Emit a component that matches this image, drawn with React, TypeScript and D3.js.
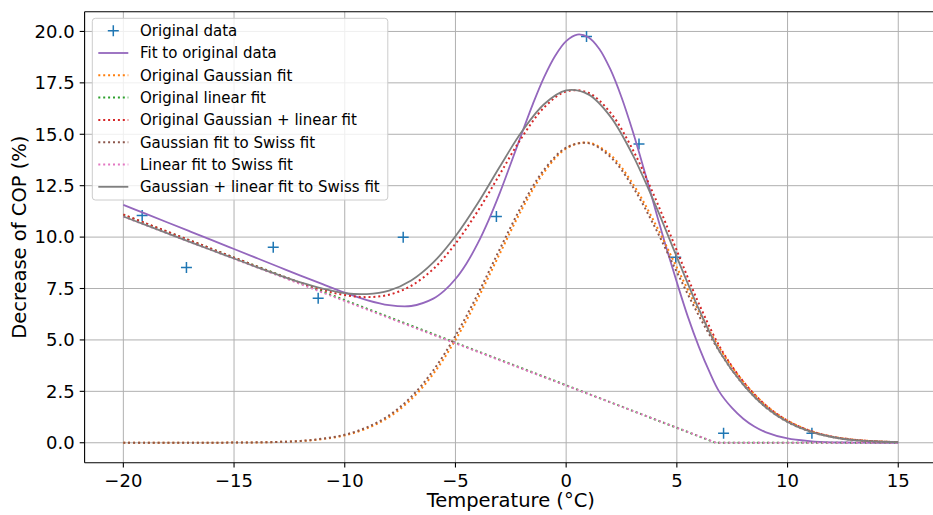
import React from "react";
import * as d3 from "d3";

// Temperature grid (°C) for the fitted curves
const temps = [-20, -19, -18, -17, -16, -15, -14, -13, -12, -11, -10, -9, -8, -7, -6, -5, -4, -3, -2, -1, 0, 1, 2, 3, 4, 5, 6, 7, 8, 9, 10, 11, 12, 13, 14, 15];

// Fit to original data (purple), read on a finer grid around the peak
const fitOriginalT = [-20, -19, -18, -17, -16, -15, -14, -13, -12, -11, -10, -9, -8, -7, -6, -5.5, -5, -4.5, -4, -3.5, -3, -2.5, -2, -1.5, -1, -0.5, 0, 0.5, 1, 1.5, 2, 2.5, 3, 3.5, 4, 4.5, 5, 5.5, 6, 6.5, 6.9, 7.5, 8, 8.5, 9, 10, 11, 12, 13, 14, 15];
const fitOriginal = [11.57, 11.14, 10.71, 10.28, 9.85, 9.42, 8.99, 8.56, 8.13, 7.71, 7.3, 6.94, 6.69, 6.65, 7.01, 7.4, 7.96, 8.72, 9.68, 10.83, 12.14, 13.58, 15.05, 16.48, 17.77, 18.81, 19.53, 19.85, 19.72, 19.15, 18.15, 16.8, 15.17, 13.35, 11.45, 9.57, 7.8, 6.12, 4.65, 3.38, 2.51, 1.68, 1.17, 0.79, 0.52, 0.21, 0.08, 0.02, 0.01, 0.0, 0.0];
// Original Gaussian fit (orange)
const origGauss = [0, 0, 0, 0, 0, 0.01, 0.01, 0.04, 0.08, 0.18, 0.36, 0.7, 1.25, 2.11, 3.35, 5.0, 6.99, 9.19, 11.35, 13.15, 14.31, 14.59, 14.0, 12.61, 10.7, 8.52, 6.38, 4.48, 2.97, 1.84, 1.08, 0.59, 0.3, 0.15, 0.07, 0.03];
// Original Gaussian + linear fit (red)
const origSum = [11.1, 10.68, 10.26, 9.84, 9.42, 9.0, 8.58, 8.17, 7.78, 7.44, 7.18, 7.08, 7.2, 7.63, 8.45, 9.68, 11.25, 13.05, 14.85, 16.3, 17.08, 17.02, 16.05, 14.27, 11.95, 9.34, 6.75, 4.55, 2.98, 1.84, 1.07, 0.59, 0.3, 0.15, 0.07, 0.03];
// Gaussian fit to Swiss fit (brown)
const swissGauss = [0, 0, 0, 0, 0, 0.01, 0.02, 0.04, 0.09, 0.2, 0.39, 0.75, 1.33, 2.23, 3.52, 5.2, 7.21, 9.41, 11.53, 13.27, 14.35, 14.57, 13.9, 12.46, 10.5, 8.3, 6.17, 4.31, 2.83, 1.74, 1.01, 0.55, 0.28, 0.13, 0.06, 0.03];
// Gaussian + linear fit to Swiss fit (gray)
const swissSum = [11.0, 10.59, 10.18, 9.77, 9.36, 8.96, 8.55, 8.16, 7.8, 7.5, 7.28, 7.23, 7.4, 7.89, 8.77, 10.04, 11.63, 13.42, 15.13, 16.46, 17.13, 16.94, 15.86, 14.01, 11.64, 9.03, 6.48, 4.31, 2.83, 1.74, 1.01, 0.55, 0.28, 0.13, 0.06, 0.03];

// Linear fits (piecewise linear, clipped at zero)
const origLinearT = [-20, 6.75, 15];
const origLinear = [11.08, 0, 0];
const swissLinearT = [-20, 6.78, 15];
const swissLinear = [11.0, 0, 0];

// Original measured data
const dataT = [-19.15, -17.15, -13.23, -11.2, -7.36, -3.15, 0.92, 3.29, 4.95, 7.11, 11.1];
const dataY = [11.05, 8.52, 9.51, 7.03, 9.99, 11.0, 19.76, 14.53, 9.02, 0.46, 0.46];

const xTicks = [-20, -15, -10, -5, 0, 5, 10, 15];
const yTicks = [0, 2.5, 5, 7.5, 10, 12.5, 15, 17.5, 20];

const legendLabels = [
  "Original data",
  "Fit to original data",
  "Original Gaussian fit",
  "Original linear fit",
  "Original Gaussian + linear fit",
  "Gaussian fit to Swiss fit",
  "Linear fit to Swiss fit",
  "Gaussian + linear fit to Swiss fit",
];

const W = 933;
const H = 515;
const L = 84.6;
const R = 937;
const T = 11.7;
const B = 462.7;
const FONT = "'DejaVu Sans', sans-serif";
const DOT = "2 2.9";

export default function App() {
  const x = d3.scaleLinear().domain([-21.75, 16.75]).range([L, R]);
  const y = d3.scaleLinear().domain([-0.97, 20.96]).range([B, T]);

  const curveOn = (ts: number[], vals: number[]) =>
    d3
      .line<number>()
      .x((_, i) => x(ts[i]))
      .y((d) => y(d))
      .curve(d3.curveCatmullRom.alpha(0.5))(vals) as string;
  const curve = (vals: number[]) => curveOn(temps, vals);
  const poly = (ts: number[], vals: number[]) =>
    d3
      .line<number>()
      .x((_, i) => x(ts[i]))
      .y((d) => y(d))(vals) as string;

  const series = [
    { label: legendLabels[1], color: "#9467bd", d: curveOn(fitOriginalT, fitOriginal), dash: null },
    { label: legendLabels[2], color: "#ff7f0e", d: curve(origGauss), dash: DOT },
    { label: legendLabels[3], color: "#2ca02c", d: poly(origLinearT, origLinear), dash: DOT },
    { label: legendLabels[4], color: "#d62728", d: curve(origSum), dash: DOT },
    { label: legendLabels[5], color: "#8c564b", d: curve(swissGauss), dash: DOT },
    { label: legendLabels[6], color: "#e377c2", d: poly(swissLinearT, swissLinear), dash: DOT },
    { label: legendLabels[7], color: "#7f7f7f", d: curve(swissSum), dash: null },
  ];

  const plus = (cx: number, cy: number, k: string) => (
    <path
      key={k}
      d={`M${cx - 5.5},${cy}H${cx + 5.5}M${cx},${cy - 5.5}V${cy + 5.5}`}
      stroke="#1f77b4"
      strokeWidth={1.5}
      fill="none"
    />
  );

  const legX = 92.3;
  const legY = 18.3;
  const rowY = (i: number) => 30.7 + i * 22.3;

  return (
    <svg
      width={W}
      height={H}
      style={{ position: "fixed", left: 0, top: 0, background: "#fff" }}
      fontFamily={FONT}
    >
      <defs>
        <clipPath id="plotclip">
          <rect x={L} y={T} width={R - L} height={B - T} />
        </clipPath>
      </defs>
      <rect x={0} y={0} width={W} height={H} fill="#fff" />
      {/* grid */}
      <g stroke="#b0b0b0" strokeWidth={1}>
        {xTicks.map((t) => (
          <line key={"gx" + t} x1={x(t)} x2={x(t)} y1={T} y2={B} />
        ))}
        {yTicks.map((t) => (
          <line key={"gy" + t} x1={L} x2={R} y1={y(t)} y2={y(t)} />
        ))}
      </g>
      <g clipPath="url(#plotclip)">
        {dataT.map((t, i) => plus(x(t), y(dataY[i]), "p" + i))}
        {series.map((s, i) => (
          <path
            key={"s" + i}
            d={s.d}
            fill="none"
            stroke={s.color}
            strokeWidth={s.dash ? 2 : 1.8}
            strokeDasharray={s.dash ?? undefined}
          />
        ))}
      </g>
      {/* spines */}
      <g stroke="#000" strokeWidth={1.1} fill="none">
        <line x1={L} x2={L} y1={T} y2={B} />
        <line x1={L} x2={R} y1={B} y2={B} />
        <line x1={L} x2={R} y1={T} y2={T} />
      </g>
      {/* ticks */}
      <g stroke="#000" strokeWidth={1.1}>
        {xTicks.map((t) => (
          <line key={"tx" + t} x1={x(t)} x2={x(t)} y1={B} y2={B + 4.9} />
        ))}
        {yTicks.map((t) => (
          <line key={"ty" + t} x1={L - 4.9} x2={L} y1={y(t)} y2={y(t)} />
        ))}
      </g>
      <g fontSize={18} fill="#000">
        {xTicks.map((t) => (
          <text key={"lx" + t} x={x(t)} y={B + 24} textAnchor="middle">
            {t < 0 ? "\u2212" + Math.abs(t) : String(t)}
          </text>
        ))}
        {yTicks.map((t) => (
          <text key={"ly" + t} x={L - 10} y={y(t)} dy="0.35em" textAnchor="end">
            {t.toFixed(1)}
          </text>
        ))}
      </g>
      <text x={(L + R) / 2} y={507} textAnchor="middle" fontSize={19.5}>
        Temperature (°C)
      </text>
      <text
        transform={`translate(26,${(T + B) / 2}) rotate(-90)`}
        textAnchor="middle"
        fontSize={19.5}
      >
        Decrease of COP (%)
      </text>
      {/* legend */}
      <g>
        <rect
          x={legX}
          y={legY}
          width={295.5}
          height={181.7}
          rx={3}
          fill="#fff"
          fillOpacity={0.8}
          stroke="#cccccc"
          strokeWidth={1}
        />
        {plus(113.3, rowY(0), "lg0")}
        {series.map((s, i) => (
          <line
            key={"lg" + i}
            x1={98.3}
            x2={128.3}
            y1={rowY(i + 1)}
            y2={rowY(i + 1)}
            stroke={s.color}
            strokeWidth={s.dash ? 2 : 1.8}
            strokeDasharray={s.dash ?? undefined}
          />
        ))}
        {legendLabels.map((lab, i) => (
          <text key={"lt" + i} x={140} y={rowY(i)} dy="0.36em" fontSize={15}>
            {lab}
          </text>
        ))}
      </g>
    </svg>
  );
}
